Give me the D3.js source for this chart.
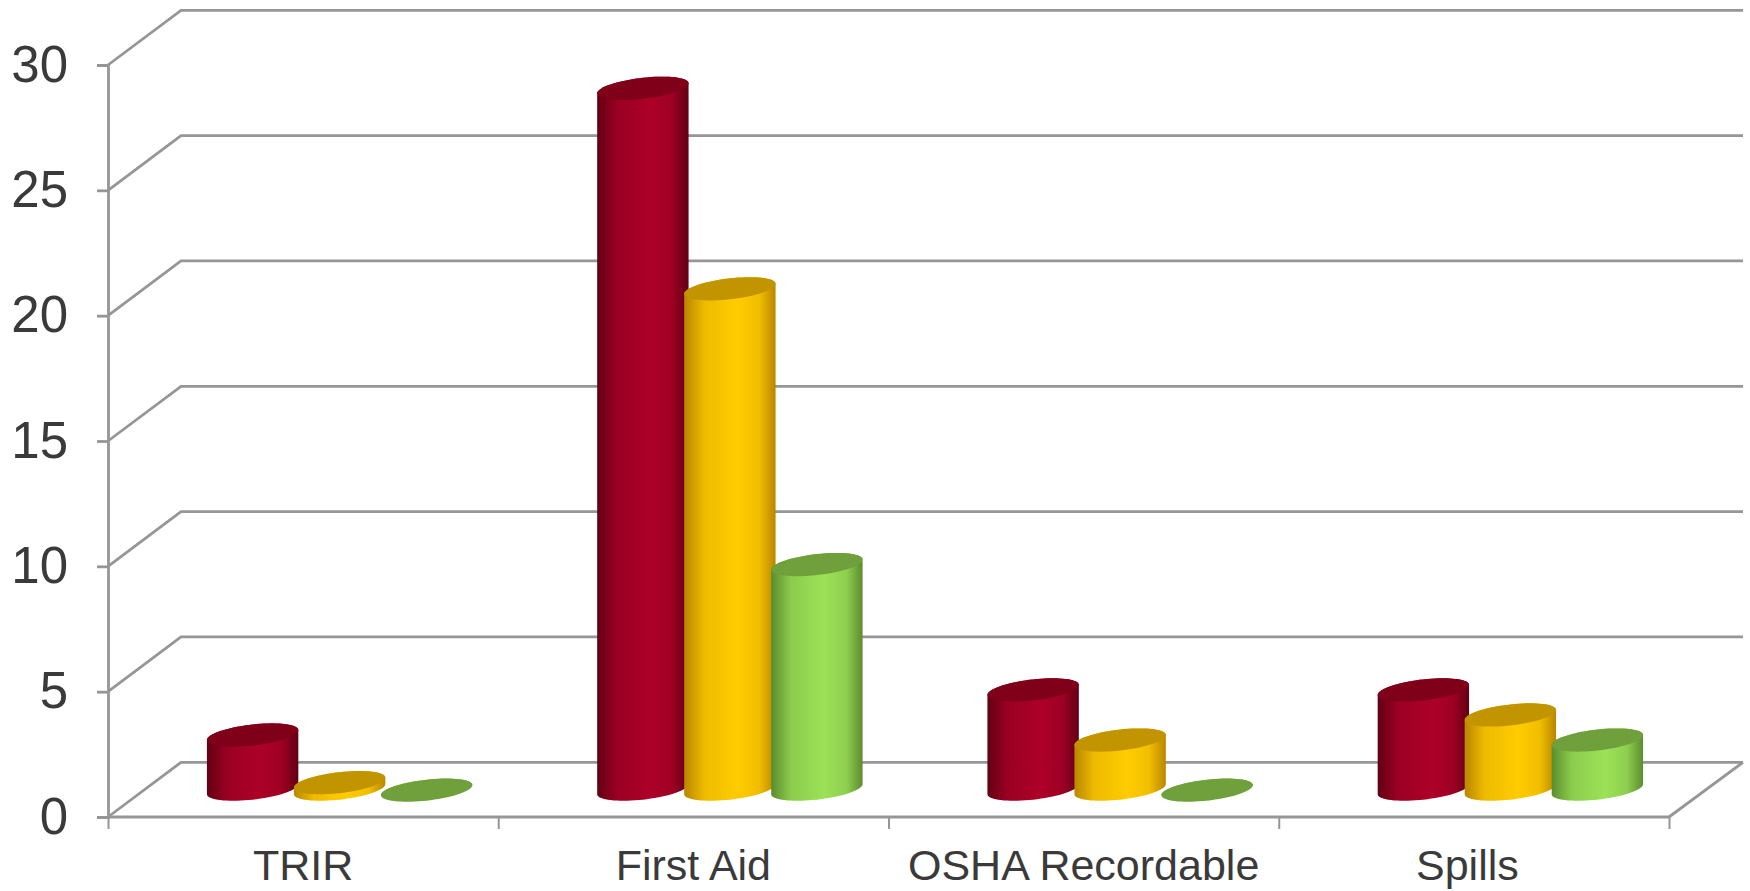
<!DOCTYPE html>
<html>
<head>
<meta charset="utf-8">
<script src="https://cdn.jsdelivr.net/npm/d3@7"></script>
<style>
  html, body { margin: 0; background: #fff; }
  text { font-family: "Liberation Sans", Arial, sans-serif; fill: #3a3a3a; }
</style>
</head>
<body>
<div id="chart"></div>
<script>
const categories = ["TRIR", "First Aid", "OSHA Recordable", "Spills"];
const redValues = [2.2, 28, 4, 4];
const goldValues = [0.3, 20, 2, 3];
const greenValues = [0, 9, 0, 2];
const yTicks = [0, 5, 10, 15, 20, 25, 30];

const seriesList = [
  { key: "red", values: redValues, edge: "#620012", mid: "#ad0028", top: "#7f0018" },
  { key: "gold", values: goldValues, edge: "#b98600", mid: "#ffcc00", top: "#c29400" },
  { key: "green", values: greenValues, edge: "#5c8c2e", mid: "#9ce157", top: "#70a03c" }
];

const w = 1750;
const h = 891;

// front plane of the 3d box
const left = 108;
const right = 1669;
const yBottom = 817;
const yTop = 65;
// how far the back wall is shifted
const depthX = 73;
const depthY = 54.7;
const backRight = 1743;

const lineColor = "#969696";
const lineWidth = 2.8;

const yScale = d3.scaleLinear().domain([0, 30]).range([yBottom, yTop]);

const xBand = d3.scaleBand().domain(categories).range([left, right]);

// cylinders overlap a little, step is smaller than the width
const barStep = 87;
const barRadius = 45.7;
const tiltY = 5;
const flatY = 10.5;

const svg = d3.select("#chart")
  .append("svg")
  .attr("width", w)
  .attr("height", h)
  .style("display", "block");

const defs = svg.append("defs");
seriesList.forEach(s => {
  const grad = defs.append("linearGradient")
    .attr("id", "side-" + s.key)
    .attr("x1", "0%").attr("x2", "100%")
    .attr("y1", "0%").attr("y2", "0%");
  grad.append("stop").attr("offset", "0%").attr("stop-color", s.edge);
  grad.append("stop").attr("offset", "22%").attr("stop-color", d3.interpolateRgb(s.edge, s.mid)(0.75));
  grad.append("stop").attr("offset", "58%").attr("stop-color", s.mid);
  grad.append("stop").attr("offset", "82%").attr("stop-color", d3.interpolateRgb(s.edge, s.mid)(0.8));
  grad.append("stop").attr("offset", "100%").attr("stop-color", s.edge);
});

// gridlines: short diagonal on the side wall, then along the back wall
const gridLine = d3.line();
svg.append("g")
  .selectAll("path")
  .data(yTicks)
  .enter()
  .append("path")
    .attr("d", d => gridLine([
      [left, yScale(d)],
      [left + depthX, yScale(d) - depthY],
      [backRight, yScale(d) - depthY]
    ]))
    .attr("fill", "none")
    .attr("stroke", lineColor)
    .attr("stroke-width", lineWidth);

// floor edges
svg.append("path")
  .attr("d", gridLine([
    [backRight, yScale(0) - depthY],
    [right, yScale(0)],
    [left, yScale(0)]
  ]))
  .attr("fill", "none")
  .attr("stroke", lineColor)
  .attr("stroke-width", lineWidth);

// Y axis
const yAxis = d3.axisLeft(yScale)
  .tickValues(yTicks)
  .tickSize(11)
  .tickPadding(29);

const yG = svg.append("g")
  .attr("transform", `translate(${left}, 0)`)
  .call(yAxis);
yG.selectAll("text").attr("font-size", 51).style("font-family", null);
yG.selectAll("line").attr("stroke", lineColor).attr("stroke-width", lineWidth);
yG.select(".domain").attr("stroke", lineColor).attr("stroke-width", lineWidth);

// X axis, ticks sit on the band edges so labels and ticks are two axes
const xTickScale = d3.scaleLinear().domain([0, categories.length]).range([left, right]);
const xTicks = svg.append("g")
  .attr("transform", `translate(0, ${yBottom})`)
  .call(d3.axisBottom(xTickScale).tickValues(d3.range(categories.length + 1)).tickSize(12).tickFormat(""));
xTicks.select(".domain").remove();
xTicks.selectAll("line").attr("stroke", lineColor).attr("stroke-width", 2);

const xLabels = svg.append("g")
  .attr("transform", `translate(0, ${yBottom})`)
  .call(d3.axisBottom(xBand).tickSize(0).tickPadding(32));
xLabels.select(".domain").remove();
xLabels.selectAll("text").attr("font-size", 43);
// last label sits a bit left of its band centre in the original
xLabels.selectAll("text").filter(d => d === "Spills").attr("dx", -6.5);

// one point on a tilted ellipse, angle 0 is the right extreme
const ellipsePoint = (cx, cy, t) => [
  cx + barRadius * Math.cos(t),
  cy + flatY * Math.sin(t) - tiltY * Math.cos(t)
];

const angles = d3.range(0, 37).map(i => i * Math.PI / 36);

const bodyPath = (cx, yBase, yEnd) => {
  const lower = angles.map(t => ellipsePoint(cx, yBase, t));
  const upper = angles.map(t => ellipsePoint(cx, yEnd, t + Math.PI));
  return d3.line()(lower.concat(upper)) + "Z";
};

const topPath = (cx, yEnd) => {
  const pts = d3.range(0, 73).map(i => ellipsePoint(cx, yEnd, i * Math.PI / 36));
  return d3.line()(pts) + "Z";
};

// bars stand in the middle of the floor depth
const barG = svg.append("g");
categories.forEach((cat, i) => {
  seriesList.forEach((s, j) => {
    const cx = xBand(cat) + xBand.bandwidth() / 2 + depthX / 2 + (j - 1) * barStep;
    const yBase = yScale(0) - depthY / 2 - 0.5;
    const yEnd = yScale(s.values[i]) - depthY / 2 + 0.5;
    barG.append("path")
      .attr("d", bodyPath(cx, yBase, yEnd))
      .attr("fill", `url(#side-${s.key})`);
    barG.append("path")
      .attr("d", topPath(cx, yEnd))
      .attr("fill", s.top);
  });
});
</script>
</body>
</html>
